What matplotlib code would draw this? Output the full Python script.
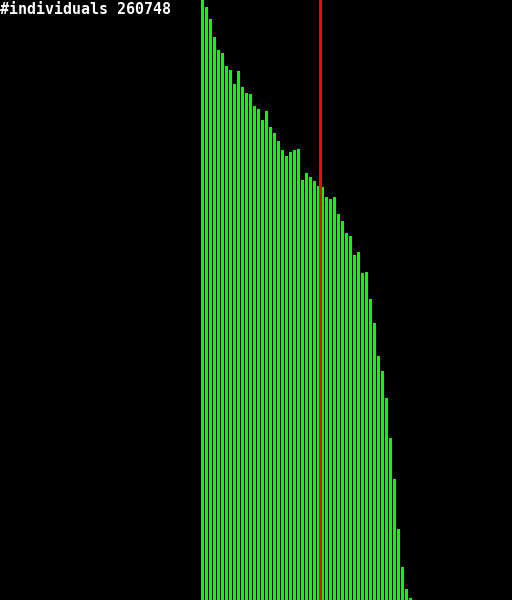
import numpy as np
import matplotlib
matplotlib.use("Agg")
import matplotlib.pyplot as plt

# histogram bins (one bin = 4 px wide, 128 bins across the canvas)
FIRST_BIN = 50
MARKER_BIN = 80
N_BINS = 128

# bar heights (pixel units, canvas height 600)
tops = [0, 7, 19, 37, 50, 53, 66, 70, 84, 71,
        87, 93, 94, 106, 109, 120, 111, 127, 133, 141,
        150, 156, 152, 150, 149, 180, 173, 177, 181, 186,
        187, 197, 199, 197, 214, 221, 233, 236, 255, 252,
        273, 272, 299, 323, 356, 371, 398, 438, 479, 529,
        567, 589, 598]
heights = [600 - t for t in tops]

LABEL = "#individuals 260748"

fig = plt.figure(figsize=(5.12, 6.0), dpi=100, facecolor="black")
ax = fig.add_axes([0, 0, 1, 1])
ax.set_facecolor("black")

bins = np.arange(FIRST_BIN, FIRST_BIN + len(heights))
ax.bar(bins + 0.2, heights, width=0.8, align="edge", color="#00ff00",
       linewidth=0, antialiased=False)
ax.axvline(MARKER_BIN + 0.05, color="#ff0000", linewidth=1.0, antialiased=False)

ax.set_xlim(0, N_BINS)
ax.set_ylim(0, 600)
ax.axis("off")

fig.text(0.0, 1 - 14 / 600, LABEL, color="white", fontsize=10.8,
         family="DejaVu Sans Mono", fontweight="bold", ha="left", va="baseline")

fig.savefig("out.png", dpi=100, facecolor="black")
